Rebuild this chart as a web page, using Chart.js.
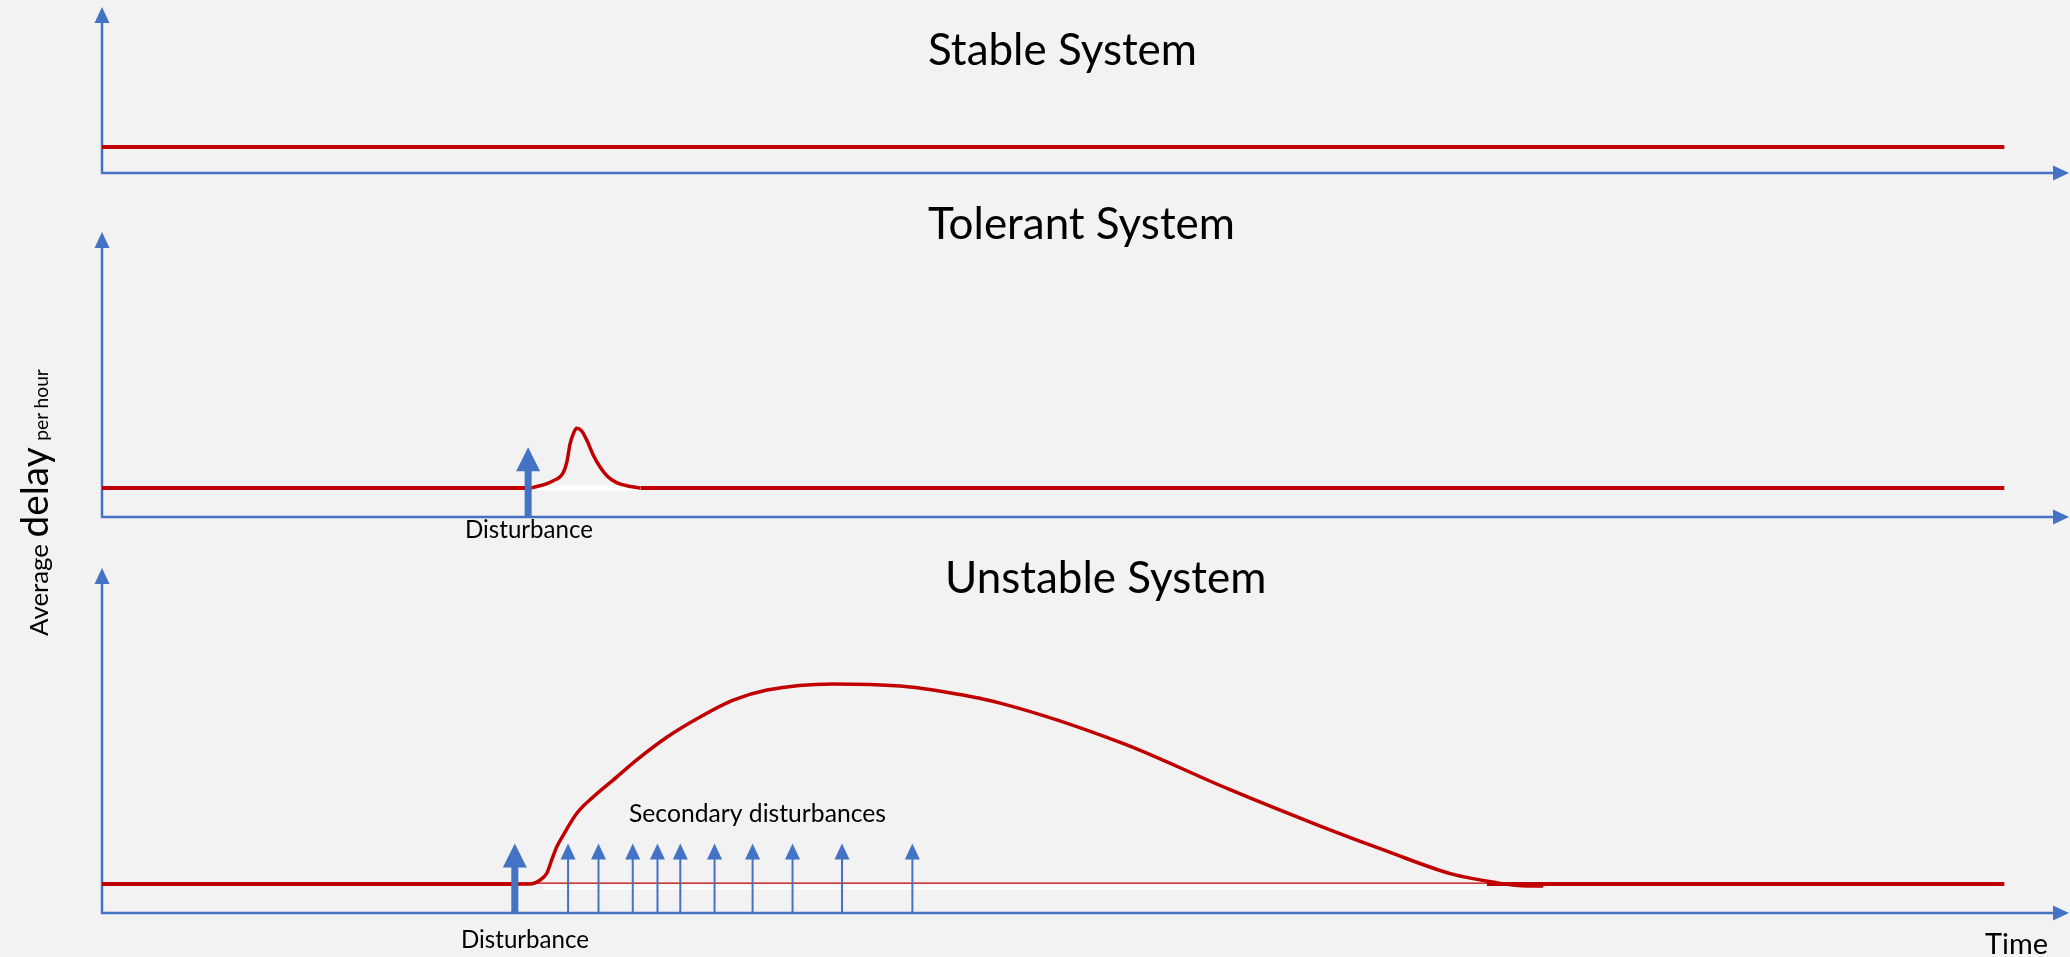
<!DOCTYPE html>
<html>
<head>
<meta charset="utf-8">
<script src="https://cdn.jsdelivr.net/npm/chart.js@4.4.1/dist/chart.umd.min.js"></script>
<style>
  html, body { margin: 0; padding: 0; background: #f2f2f2; }
  body { width: 2070px; height: 957px; position: relative; overflow: hidden; font-family: Lato, sans-serif; }
  canvas { position: absolute; left: 0; }
  #ylab { position: absolute; left: 13px; top: 636px; transform-origin: 0 0; transform: rotate(-90deg);
          white-space: nowrap; font-size: 26px; line-height: 40px; color: #000; }
</style>
</head>
<body>
<canvas id="stable" width="2070" height="200" style="top:0"></canvas>
<canvas id="tolerant" width="2070" height="360" style="top:200px"></canvas>
<canvas id="unstable" width="2070" height="397" style="top:560px"></canvas>
<div id="ylab"><span id="yl1">Average</span> <span id="yl2">delay</span> <span id="yl3">per hour</span></div>
<script>
const blue = '#4472c4';
const red = '#c00000';

// time axis (arbitrary units), the red line stops at lineEnd
const timeMax = 103.4;
const lineEnd = 100;
const base = 1;            // normal delay level
const arrowHeight = 2.4;   // height of disturbance arrows, in delay units

// stable
const stableYMax = 6.4;

// tolerant
const tolerantYMax = 9.8;
const tolerantDisturbance = 22.4;
const tolerantBumpT = [22.6, 23.7, 24.25, 24.45, 24.6, 24.8, 24.95, 25.2, 25.5, 25.8, 26.2, 26.55, 27.05, 27.95, 28.3];
const tolerantBumpY = [1.0, 1.24, 1.53, 1.93, 2.5, 2.9, 3.05, 2.97, 2.62, 2.16, 1.7, 1.41, 1.18, 1.03, 1.0];

// unstable
const unstableYMax = 11.9;
const unstableDisturbance = 21.7;
const secondaryTimes = [24.5, 26.1, 27.9, 29.2, 30.4, 32.2, 34.2, 36.3, 38.9, 42.6];
const unstableCurveT = [21.7, 22.5, 23.03, 23.38, 23.64, 23.91, 24.25, 24.96, 25.83, 26.88, 28.11, 29.71, 31.44, 33.18,
                        34.96, 38.43, 41.96, 43.69, 47.21, 53.63, 59.2, 64.04, 67.51, 70.98, 73.08, 74.92, 75.76];
const unstableCurveY = [1.0, 1.0, 1.14, 1.37, 1.83, 2.29, 2.69, 3.44, 4.01, 4.59, 5.28, 6.07, 6.76, 7.34,
                        7.69, 7.9, 7.83, 7.69, 7.24, 5.86, 4.28, 3.0, 2.14, 1.34, 1.07, 0.93, 0.93];
const unstableRecovery = 72.8;

const titles = ['Stable System', 'Tolerant System', 'Unstable System'];

const pts = (ts, ys) => ts.map((t, i) => ({ x: t, y: ys[i] }));

const measureCtx = document.createElement('canvas').getContext('2d');
function fitSize(ctx, text, width) {
  ctx.font = '100px Lato';
  return 100 * width / ctx.measureText(text).width;
}

// y label: three parts, sized to the widths in the picture
const ylabWidths = [92, 90, 72];
const ylabSizes = ['yl1', 'yl2', 'yl3'].map((id, i) => {
  const el = document.getElementById(id);
  const s = fitSize(measureCtx, el.textContent, ylabWidths[i]);
  el.style.fontSize = s.toFixed(2) + 'px';
  return s;
});
document.getElementById('ylab').style.left = (48 - (0.387 * ylabSizes[1] + 20)).toFixed(1) + 'px';

// axes drawn as arrows
const arrowAxes = {
  id: 'arrowAxes',
  beforeDatasetsDraw(chart) {
    const { ctx, scales: { x, y } } = chart;
    const left = x.getPixelForValue(0), right = x.getPixelForValue(x.max);
    const bottom = y.getPixelForValue(0), top = y.getPixelForValue(y.max);
    ctx.save();
    ctx.strokeStyle = blue;
    ctx.fillStyle = blue;
    ctx.lineWidth = 2.5;
    ctx.beginPath();
    ctx.moveTo(left, top + 12);
    ctx.lineTo(left, bottom);
    ctx.lineTo(right - 12, bottom);
    ctx.stroke();
    ctx.beginPath();
    ctx.moveTo(left, top); ctx.lineTo(left - 7.5, top + 16); ctx.lineTo(left + 7.5, top + 16);
    ctx.closePath(); ctx.fill();
    ctx.beginPath();
    ctx.moveTo(right, bottom); ctx.lineTo(right - 16, bottom - 7.5); ctx.lineTo(right - 16, bottom + 7.5);
    ctx.closePath(); ctx.fill();
    ctx.restore();
  }
};

// disturbance arrows and texts
const panelDecor = {
  id: 'panelDecor',
  afterDatasetsDraw(chart, args, opts) {
    const { ctx, scales: { x, y } } = chart;
    const y0 = y.getPixelForValue(0);
    ctx.save();
    ctx.fillStyle = blue;
    (opts.arrows || []).forEach(a => {
      const px = x.getPixelForValue(a.t);
      const top = y.getPixelForValue(a.h);
      const s = a.big ? { shaft: 7, head: 24, len: 24 } : { shaft: 2, head: 15, len: 16 };
      ctx.fillRect(px - s.shaft / 2, top + s.len - 1, s.shaft, y0 - top - s.len + 1);
      ctx.beginPath();
      ctx.moveTo(px, top);
      ctx.lineTo(px - s.head / 2, top + s.len);
      ctx.lineTo(px + s.head / 2, top + s.len);
      ctx.closePath();
      ctx.fill();
    });
    ctx.fillStyle = '#000';
    ctx.textAlign = 'left';
    ctx.textBaseline = 'alphabetic';
    (opts.texts || []).forEach(t => {
      const size = fitSize(ctx, t.fit || t.text, t.width);
      ctx.font = size.toFixed(2) + 'px Lato';
      ctx.fillText(t.text, t.x, t.y);
    });
    ctx.restore();
  }
};

function line(data, color, width, order, smooth) {
  return {
    data, borderColor: color, borderWidth: width, order,
    fill: false, pointRadius: 0, spanGaps: false, tension: 0,
    cubicInterpolationMode: smooth ? 'monotone' : 'default',
    borderCapStyle: 'butt', clip: false
  };
}

function makePanel(id, yMax, padding, datasets, decor) {
  return new Chart(document.getElementById(id), {
    type: 'line',
    data: { datasets },
    options: {
      responsive: false,
      animation: false,
      devicePixelRatio: 1,
      layout: { padding },
      scales: {
        x: { type: 'linear', min: 0, max: timeMax, display: false },
        y: { type: 'linear', min: 0, max: yMax, display: false }
      },
      plugins: { legend: { display: false }, tooltip: { enabled: false }, panelDecor: decor }
    },
    plugins: [arrowAxes, panelDecor]
  });
}

const titleWidth = { fit: 'Stable System', width: 269 };

makePanel('stable', stableYMax, { left: 102, right: 1, top: 7, bottom: 27 }, [
  line([{ x: 0, y: base }, { x: lineEnd, y: base }], red, 4, 2)
], {
  texts: [{ text: titles[0], x: 928, y: 65, ...titleWidth }]
});

makePanel('tolerant', tolerantYMax, { left: 102, right: 1, top: 32, bottom: 43 }, [
  line(pts(tolerantBumpT, tolerantBumpY), red, 3.5, 0, true),
  line([{ x: tolerantBumpT[0], y: base }, { x: tolerantBumpT[tolerantBumpT.length - 1], y: base }], '#ffffff', 5, 1),
  line([{ x: 0, y: base }, { x: tolerantBumpT[0], y: base }, { x: 25, y: null },
        { x: tolerantBumpT[tolerantBumpT.length - 1], y: base }, { x: lineEnd, y: base }], red, 4, 2)
], {
  arrows: [{ t: tolerantDisturbance, h: arrowHeight, big: true }],
  texts: [
    { text: titles[1], x: 928, y: 39, ...titleWidth },
    { text: 'Disturbance', x: 465, y: 338, width: 128 }
  ]
});

makePanel('unstable', unstableYMax, { left: 102, right: 1, top: 8, bottom: 44 }, [
  line(pts(unstableCurveT, unstableCurveY), red, 3.5, 0, true),
  line([{ x: 23.2, y: 0.88 }, { x: unstableRecovery, y: 0.88 }], '#ffffff', 4, 1),
  line([{ x: unstableDisturbance, y: 1.03 }, { x: unstableRecovery, y: 1.03 }], red, 1.3, 2),
  line([{ x: 0, y: base }, { x: unstableDisturbance, y: base }, { x: 50, y: null },
        { x: unstableRecovery, y: base }, { x: lineEnd, y: base }], red, 4, 3)
], {
  arrows: [{ t: unstableDisturbance, h: arrowHeight, big: true }]
    .concat(secondaryTimes.map(t => ({ t, h: arrowHeight, big: false }))),
  texts: [
    { text: titles[2], x: 945, y: 33, ...titleWidth },
    { text: 'Secondary disturbances', x: 629, y: 262, width: 257 },
    { text: 'Disturbance', x: 461, y: 388, width: 128 },
    { text: 'Time', x: 1985, y: 394, width: 63 }
  ]
});
</script>
</body>
</html>
